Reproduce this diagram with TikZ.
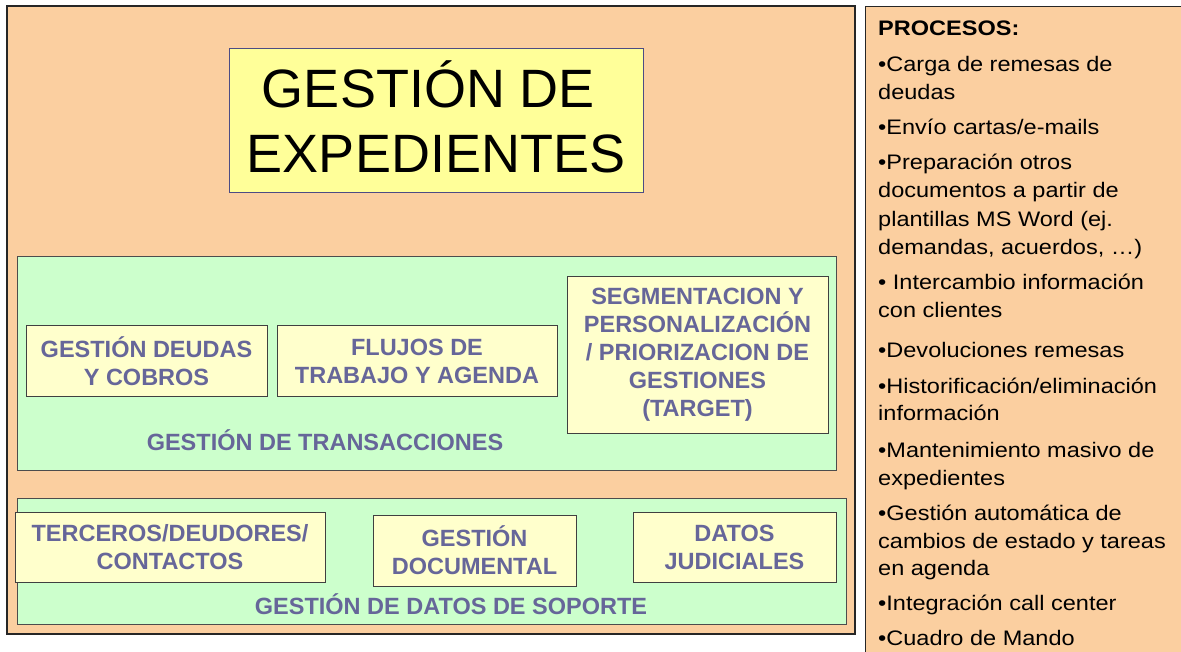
\documentclass[tikz,border=0pt]{standalone}
\usepackage{fontspec}
\setmainfont{Liberation Sans}
\newfontfamily\widefont[FakeStretch=1.12]{Liberation Sans}
\definecolor{panelbg}{HTML}{FBCFA0}
\definecolor{greenbg}{HTML}{CCFFCC}
\definecolor{itembg}{HTML}{FFFFCC}
\definecolor{titlebg}{HTML}{FFFF99}
\definecolor{slate}{HTML}{666699}
\tikzset{
  panelbox/.style={draw=black!85, fill=panelbg, line width=1.3pt},
  groupbox/.style={draw=black!70, fill=greenbg, line width=1pt},
  itembox/.style={draw=black!75, fill=itembg, line width=1pt, inner sep=0pt,
    font=\fontsize{23.5}{28}\selectfont\bfseries, text=slate, align=center},
  grouplabel/.style={font=\fontsize{23.5}{28}\selectfont\bfseries, text=slate, anchor=base, inner sep=0pt},
  titletext/.style={font=\fontsize{54}{65}\selectfont, text=black, anchor=base, inner sep=0pt},
  proc/.style={font=\widefont\fontsize{21}{28}\selectfont, text=black, anchor=base west, inner sep=0pt},
}
\begin{document}
\begin{tikzpicture}[x=1pt,y=-1pt]
\useasboundingbox (0,0) rectangle (1181,652);
\clip (0,0) rectangle (1181,652);
\fill[white] (0,0) rectangle (1181,652);
% main panels
\node[panelbox, minimum width=848pt, minimum height=628pt, inner sep=0pt] (main) at (431,320) {};
\node[panelbox, minimum width=330pt, minimum height=660pt, inner sep=0pt, anchor=north west] (procpanel) at (865,6) {};
% title
\node[draw=black!45!blue!40!gray, fill=titlebg, line width=1pt, minimum width=414pt, minimum height=144pt, inner sep=0pt] (title) at (436,121) {};
\node[titletext] (t1) at (436,108) {GESTIÓN DE\rule{15pt}{0pt}};
\node[titletext] (t2) at (436,173) {EXPEDIENTES};
% transacciones group
\node[groupbox, minimum width=819pt, minimum height=213pt, inner sep=0pt] (trans) at (426.5,363.5) {};
\node[itembox, minimum width=241pt, minimum height=70pt] (deudas) at (146.5,361) {GESTIÓN DEUDAS\\Y COBROS};
\node[itembox, minimum width=280pt, minimum height=70pt] (flujos) at (417,361) {FLUJOS DE\\TRABAJO Y AGENDA};
\node[itembox, minimum width=261pt, minimum height=156pt] (segm) at (697.5,355) {SEGMENTACION Y\\PERSONALIZACIÓN\\/ PRIORIZACION DE\\GESTIONES\\(TARGET)};
\node[grouplabel] (translabel) at (325,450) {GESTIÓN DE TRANSACCIONES};
% soporte group
\node[groupbox, minimum width=829pt, minimum height=126pt, inner sep=0pt] (soporte) at (431.5,561) {};
\node[itembox, minimum width=310pt, minimum height=70pt] (terceros) at (170,547) {TERCEROS/DEUDORES/\\CONTACTOS};
\node[itembox, minimum width=203pt, minimum height=71pt] (docu) at (474.5,550.5) {GESTIÓN\\DOCUMENTAL};
\node[itembox, minimum width=203pt, minimum height=70pt] (judi) at (734.5,547) {DATOS\\JUDICIALES};
\node[grouplabel] (soplabel) at (451,614) {GESTIÓN DE DATOS DE SOPORTE};
% processes
\node[proc, font=\widefont\fontsize{21}{28}\selectfont\bfseries] (p0) at (878,36) {PROCESOS:};
\node[proc] (p1) at (878,72) {•Carga de remesas de};
\node[proc] (p2) at (878,100) {deudas};
\node[proc] (p3) at (878,135) {•Envío cartas/e-mails};
\node[proc] (p4) at (878,170) {•Preparación otros};
\node[proc] (p5) at (878,198) {documentos a partir de};
\node[proc] (p6) at (878,227) {plantillas MS Word (ej.};
\node[proc] (p7) at (878,255) {demandas, acuerdos, …)};
\node[proc] (p8) at (878,290) {• Intercambio información};
\node[proc] (p9) at (878,318) {con clientes};
\node[proc] (p10) at (878,358) {•Devoluciones remesas};
\node[proc] (p11) at (878,393) {•Historificación/eliminación};
\node[proc] (p12) at (878,420) {información};
\node[proc] (p13) at (878,457) {•Mantenimiento masivo de};
\node[proc] (p14) at (878,485) {expedientes};
\node[proc] (p15) at (878,520) {•Gestión automática de};
\node[proc] (p16) at (878,548) {cambios de estado y tareas};
\node[proc] (p17) at (878,575) {en agenda};
\node[proc] (p18) at (878,610) {•Integración call center};
\node[proc] (p19) at (878,645) {•Cuadro de Mando};
\end{tikzpicture}
\end{document}
